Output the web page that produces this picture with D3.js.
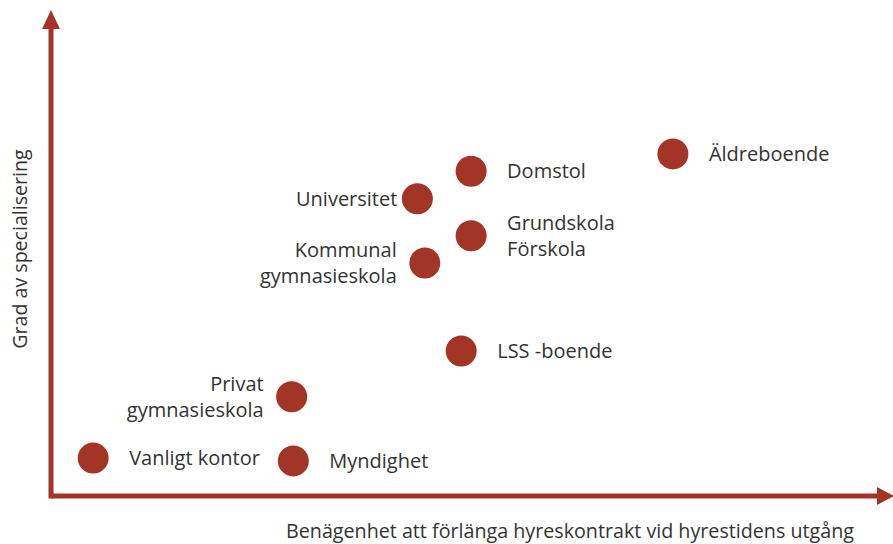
<!DOCTYPE html>
<html>
<head>
<meta charset="utf-8">
<script src="https://cdn.jsdelivr.net/npm/d3@7"></script>
<style>
  body { margin: 0; background: #fff; }
  text { font-family: "Open Sans", sans-serif; fill: #333; }
</style>
</head>
<body>
<div id="chart"></div>
<script>
// categories and their positions on the two (unitless) axes, 0-100
const names = ["Vanligt kontor", "Myndighet", "Privat\ngymnasieskola", "LSS -boende",
  "Kommunal\ngymnasieskola", "Universitet", "Grundskola\nFörskola", "Domstol", "Äldreboende"];
const forlanga = [5.1, 29.3, 29.1, 49.6, 45.2, 44.3, 50.8, 50.8, 75.2];
const specialisering = [8.1, 7.5, 21.2, 31.0, 49.8, 63.5, 55.6, 69.4, 73.1];

const xTitle = "Benägenhet att förlänga hyreskontrakt vid hyrestidens utgång";
const yTitle = "Grad av specialisering";

const data = names.map((n, i) => ({ name: n, x: forlanga[i], y: specialisering[i] }));

// labels that sit on the left side of their dot
const leftLabels = ["Privat\ngymnasieskola", "Kommunal\ngymnasieskola", "Universitet"];

const width = 893, height = 544;
const red = "#a33526";

// set the ranges
var x = d3.scaleLinear().domain([0, 100]).range([51, 878]);
var y = d3.scaleLinear().domain([0, 100]).range([496, 28]);

var svg = d3.select("#chart").append("svg")
    .attr("width", width)
    .attr("height", height);

// axes: plain lines with arrow heads
svg.append("line")
    .attr("x1", x(0)).attr("x2", x(100))
    .attr("y1", y(0)).attr("y2", y(0))
    .attr("stroke", red).attr("stroke-width", 5);
svg.append("line")
    .attr("x1", x(0)).attr("x2", x(0))
    .attr("y1", y(0) + 2.5).attr("y2", y(100))
    .attr("stroke", red).attr("stroke-width", 5);

svg.append("path")
    .attr("d", `M${x(100) - 1},${y(0) - 9} L${x(100) + 16},${y(0)} L${x(100) - 1},${y(0) + 9} Z`)
    .attr("fill", red);
svg.append("path")
    .attr("d", `M${x(0) - 9},${y(100) + 1} L${x(0)},${y(100) - 18} L${x(0) + 9},${y(100) + 1} Z`)
    .attr("fill", red);

// points
svg.selectAll("circle")
    .data(data)
  .enter().append("circle")
    .attr("cx", d => x(d.x))
    .attr("cy", d => y(d.y))
    .attr("r", 15.5)
    .attr("fill", red);

// labels
var lineH = 26;
data.forEach(function(d) {
  var left = leftLabels.includes(d.name);
  var lines = d.name.split("\n");
  var t = svg.append("text")
      .attr("x", left ? x(d.x) - (lines.length > 1 ? 28 : 20) : x(d.x) + 36)
      .attr("y", y(d.y) - (lines.length - 1) * lineH / 2 + 7)
      .attr("text-anchor", left ? "end" : "start")
      .style("font-size", "20px");
  lines.forEach(function(l, i) {
    t.append("tspan")
      .attr("x", t.attr("x"))
      .attr("dy", i === 0 ? 0 : lineH)
      .text(l);
  });
});

// axis titles
svg.append("text")
    .attr("x", 570)
    .attr("y", 538)
    .attr("text-anchor", "middle")
    .style("font-size", "19.7px")
    .text(xTitle);

svg.append("text")
    .attr("transform", "translate(27,249) rotate(-90)")
    .attr("text-anchor", "middle")
    .style("font-size", "19.6px")
    .text(yTitle);
</script>
</body>
</html>
